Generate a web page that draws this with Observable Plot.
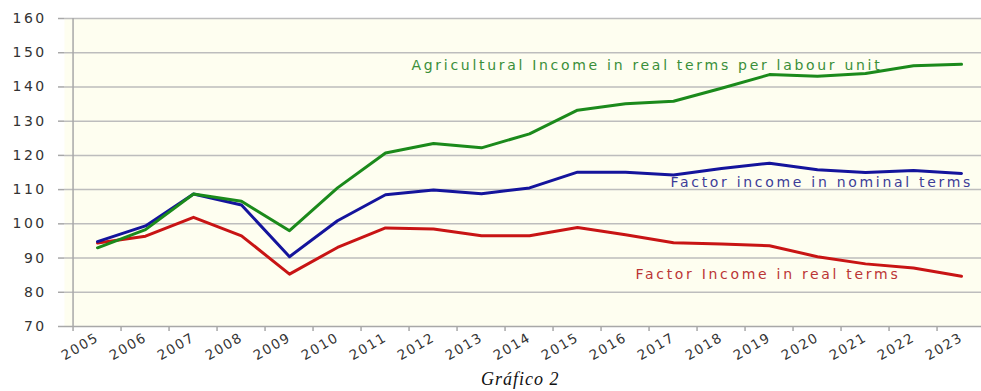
<!DOCTYPE html>
<html>
<head>
<meta charset="utf-8">
<script src="https://cdn.jsdelivr.net/npm/d3@7"></script>
<script src="https://cdn.jsdelivr.net/npm/@observablehq/plot@0.6"></script>
<style>
  html, body { margin: 0; padding: 0; background: #ffffff; }
  #wrap { position: relative; width: 981px; height: 391px; overflow: hidden; }
  #caption { position: absolute; left: 481px; top: 369px; font-family: "Liberation Serif", serif; font-style: italic; font-size: 18px; line-height: 20px; letter-spacing: 1px; color: #111; white-space: nowrap; }
</style>
</head>
<body>
<div id="wrap"><div id="chart"></div><div id="caption">Gráfico 2</div></div>
<script>
const years = ["2005","2006","2007","2008","2009","2010","2011","2012","2013","2014","2015","2016","2017","2018","2019","2020","2021","2022","2023"];
const agriRealPerLabourUnit = [93.0, 98.3, 108.7, 106.6, 98.0, 110.5, 120.7, 123.5, 122.2, 126.3, 133.2, 135.1, 135.8, 139.6, 143.6, 143.1, 143.9, 146.2, 146.6];
const factorIncomeNominal = [94.8, 99.4, 108.7, 105.5, 90.4, 100.9, 108.5, 109.9, 108.8, 110.5, 115.1, 115.1, 114.3, 116.2, 117.7, 115.8, 115.0, 115.6, 114.7];
const factorIncomeReal = [94.4, 96.4, 101.9, 96.5, 85.3, 93.1, 98.8, 98.5, 96.5, 96.5, 98.9, 96.8, 94.5, 94.1, 93.6, 90.4, 88.3, 87.1, 84.7];
const yTicks = [70, 80, 90, 100, 110, 120, 130, 140, 150, 160];
const seriesNames = ["Agricultural Income in real terms per labour unit", "Factor income in nominal terms", "Factor Income in real terms"];
const labelYears = ["2012", "2017", "2016"];
const labelValues = [146.3, 112.0, 85.2];

const green = "#1b8a1b", blue = "#14149c", red = "#c81414";
const labelColors = ["#3a8f3a", "#3c3c98", "#bb3535"];
const labelShift = [-22, -3, 10];
const xRange = [64, 993];
const bw = (xRange[1] - xRange[0]) / years.length;

const toRows = (vals) => years.map((y, i) => ({year: y, value: vals[i]}));
const labelMarks = seriesNames.map((t, i) =>
  Plot.text([{text: t, year: labelYears[i], value: labelValues[i]}], {
    x: "year", y: "value", text: "text", textAnchor: "start",
    dx: labelShift[i], fontSize: 14, fill: labelColors[i]
  })
);

const chart = Plot.plot({
  width: 981,
  height: 368,
  marginLeft: 64,
  marginRight: 0,
  marginTop: 18,
  marginBottom: 42,
  style: {background: "transparent", fontFamily: "'DejaVu Sans', Verdana, sans-serif"},
  x: {type: "band", domain: years, range: xRange, padding: 0, axis: null},
  y: {domain: [70, 160], axis: null},
  marks: [
    Plot.frame({fill: "#fefef0", stroke: "none"}),
    Plot.gridY(yTicks.filter(v => v > 70), {stroke: "#bdbdbd", strokeOpacity: 1, strokeWidth: 1.5}),
    Plot.axisY({ticks: yTicks, tickSize: 6, tickPadding: 12, stroke: "#a8a8a8", strokeWidth: 1.5, fill: "#333", fontSize: 14, label: null}),
    Plot.ruleY([70], {stroke: "#a8a8a8", strokeWidth: 1.5}),
    Plot.ruleX([years[0]], {dx: -bw / 2, stroke: "#a8a8a8", strokeWidth: 1.5}),
    Plot.axisX({tickSize: 5, fill: "none", stroke: "#a8a8a8", strokeWidth: 1.5, dx: -bw / 2, label: null}),
    Plot.axisX({tickSize: 0, tickPadding: 10, tickRotate: -30, fill: "#333", fontSize: 13.5, label: null}),
    Plot.lineY(toRows(factorIncomeReal), {x: "year", y: "value", stroke: red, strokeWidth: 3}),
    Plot.lineY(toRows(factorIncomeNominal), {x: "year", y: "value", stroke: blue, strokeWidth: 3}),
    Plot.lineY(toRows(agriRealPerLabourUnit), {x: "year", y: "value", stroke: green, strokeWidth: 3}),
    ...labelMarks
  ]
});

document.getElementById("chart").appendChild(chart);
d3.select(chart).selectAll('g[aria-label="text"] text').style("letter-spacing", "2.7px");
d3.select(chart).selectAll('g[aria-label="y-axis tick label"] text').style("letter-spacing", "2.4px");
d3.select(chart).selectAll('g[aria-label="x-axis tick label"] text').style("letter-spacing", "1.5px");
</script>
</body>
</html>
